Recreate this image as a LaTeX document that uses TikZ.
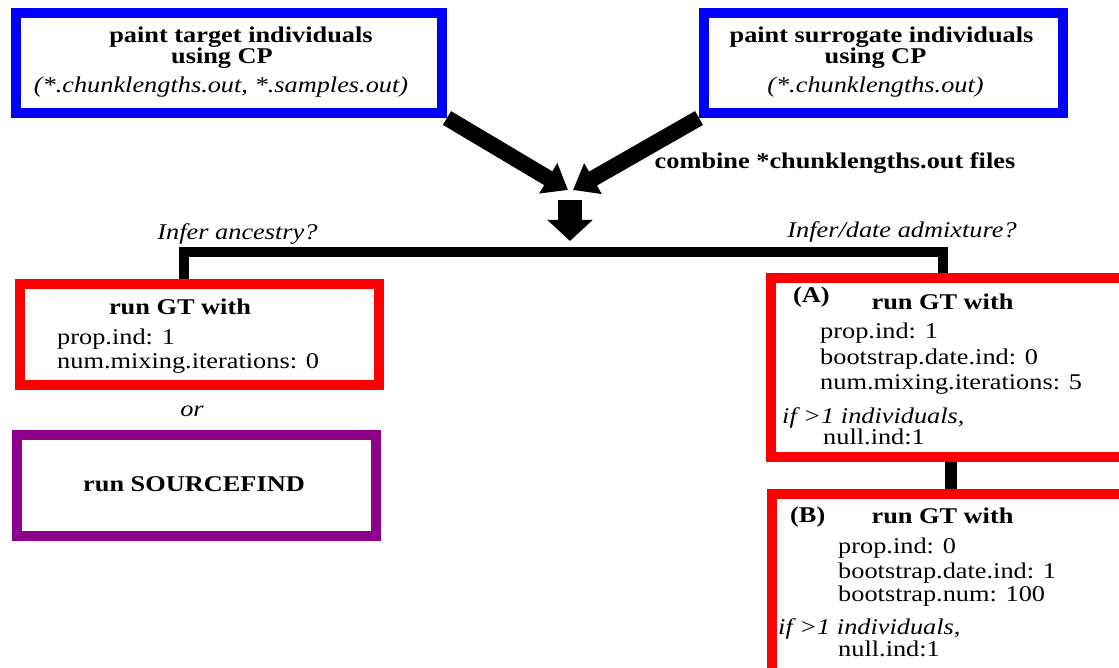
\documentclass[tikz,border=0pt]{standalone}
\usepackage{fontspec}
\setmainfont{Liberation Serif}[FakeStretch=1.17]
\usetikzlibrary{arrows.meta}
\definecolor{boxblue}{RGB}{0,0,255}
\definecolor{boxred}{RGB}{255,0,0}
\definecolor{boxpurple}{RGB}{140,0,140}
\tikzset{
  frame/.style={draw=#1, line width=10pt, inner sep=0pt, fill=none},
  txt/.style={inner sep=0pt, anchor=base, font=\fontsize{22.5}{25}\selectfont},
  rl/.style={txt, anchor=base west},
  bt/.style={txt, font=\fontsize{22.5}{25}\selectfont\bfseries},
  btl/.style={bt, anchor=base west},
  head/.style={inner sep=0pt, anchor=base, align=center, font=\fontsize{22.5}{20}\selectfont\bfseries},
  it/.style={txt, font=\fontsize{22.5}{25}\selectfont\itshape},
  itl/.style={it, anchor=base west},
  tbar/.style={draw=black, line width=10pt, line join=miter},
  vlink/.style={draw=black, line width=12pt},
  slant/.style={draw=black, line width=16pt, -{Triangle[width=34pt,length=23pt]}},
  downarr/.style={draw=black, line width=24pt, -{Triangle[width=44pt,length=21pt]}}
}
\begin{document}
\begin{tikzpicture}[x=1pt,y=-1pt]
\useasboundingbox (0,0) rectangle (1119,668);
\clip (0,0) rectangle (1119,668);
\fill[white] (0,0) rectangle (1119,668);

% boxes
\node[frame=boxblue, minimum width=426.5pt, minimum height=100pt] (tgt) at (228.75,63) {};
\node[frame=boxblue, minimum width=358.5pt, minimum height=100pt] (sur) at (883.25,63) {};
\node[frame=boxred, minimum width=359pt, minimum height=101pt] (gt1) at (199,334.5) {};
\node[frame=boxpurple, minimum width=359pt, minimum height=101pt] (sf) at (196,485.5) {};
\node[frame=boxred, minimum width=364pt, minimum height=178.5pt] (A) at (953,367.25) {};
\node[frame=boxred, minimum width=363.5pt, minimum height=191pt] (B) at (953.25,589.5) {};

% texts
\node[head] (t1) at (241,64) {paint target individuals\\using CP\hspace*{38pt}};
\node[it] (t3) at (221,93) {(*.chunklengths.out, *.samples.out)};
\node[head] (s1) at (881.5,64) {paint surrogate individuals\\using CP\hspace*{12pt}};
\node[it] (s3) at (875.5,93) {(*.chunklengths.out)};
\node[bt] (comb) at (835,169) {combine *chunklengths.out files};
\node[it] (qa) at (237.5,240) {Infer ancestry?};
\node[it] (qb) at (902,238) {Infer/date admixture?};

\node[bt] (g1) at (180,315) {run GT with};
\node[rl] (g2) at (57,344) {prop.ind: 1};
\node[rl] (g3) at (57,368) {num.mixing.iterations: 0};
\node[it] (ortxt) at (192,416) {or};
\node[bt] (sft) at (194,491) {run SOURCEFIND};

\node[btl] (al) at (793,302) {(A)};
\node[bt] (a1) at (942.5,309) {run GT with};
\node[rl] (a2) at (820,338) {prop.ind: 1};
\node[rl] (a3) at (820,364) {bootstrap.date.ind: 0};
\node[rl] (a4) at (820,389) {num.mixing.iterations: 5};
\node[itl] (a5) at (782,423) {if >1 individuals,};
\node[rl] (a6) at (823,444) {null.ind:1};

\node[btl] (bl) at (790,522) {(B)};
\node[bt] (b1) at (942.5,523) {run GT with};
\node[rl] (b2) at (838,553) {prop.ind: 0};
\node[rl] (b3) at (838,578) {bootstrap.date.ind: 1};
\node[rl] (b4) at (838,601) {bootstrap.num: 100};
\node[itl] (b5) at (778,634) {if >1 individuals,};
\node[rl] (b6) at (838,656) {null.ind:1};

% connectors
\coordinate (xl) at (184,0);
\coordinate (xr) at (943,0);
\coordinate (yb) at (0,252);
\coordinate (xab) at (951,0);
\draw[tbar] (gt1.north -| xl) -- (xl |- yb) -- (xr |- yb) -- (A.north -| xr);
\draw[vlink] (A.south -| xab) -- (B.north -| xab);

\coordinate (tipL) at (568,190);
\coordinate (tipR) at (573,190);
\coordinate (dtop) at (570,200);
\coordinate (dtip) at (570,241);
\draw[slant] (tgt.south east) -- (tipL);
\draw[slant] (sur.south west) -- (tipR);
\draw[downarr] (dtop) -- (dtip);
\end{tikzpicture}
\end{document}
